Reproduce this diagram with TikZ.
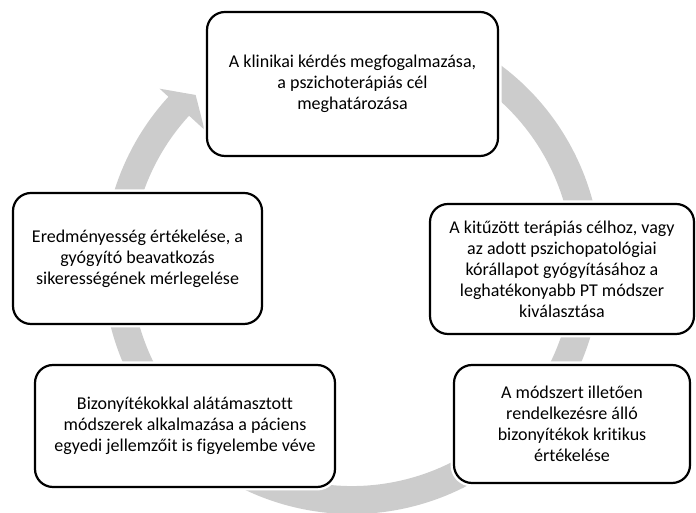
\documentclass[tikz,border=0pt]{standalone}
\usepackage{fontspec}
\setmainfont{Carlito}[Ligatures=NoCommon]
\definecolor{ringgray}{RGB}{204,204,204}

\begin{document}
\begin{tikzpicture}[x=1pt, y=1pt,
    cyclebox/.style={draw=black, line width=2.2pt, fill=white, rounded corners=18pt,
        align=center, inner sep=0pt, font=\fontsize{18}{21}\selectfont,
        preaction={draw=white, line width=7pt}},
    ring/.style={draw=ringgray, line width=28pt}]
    \useasboundingbox (0,0) rectangle (696,513);

    % Cycle arrow
    \begin{scope}[shift={(352,248)}]
        \draw[ring] (70:235) arc[start angle=70, end angle=-222.8, radius=235];
        \fill[ringgray] (137.5:261) -- (132.6:231) -- (137.5:200) -- cycle;
    \end{scope}

    % Steps
    \node[cyclebox, minimum width=291pt, minimum height=144pt] (klinikai) at (352.5,429)
        {A klinikai kérdés megfogalmazása,\\ a pszichoterápiás cél\\ meghatározása};
    \node[cyclebox, minimum width=264pt, minimum height=130pt] (kituzott) at (562,244)
        {A kitűzött terápiás célhoz, vagy\\ az adott pszichopatológiai\\ kórállapot gyógyításához a\\ leghatékonyabb PT módszer\\ kiválasztása};
    \node[cyclebox, minimum width=236pt, minimum height=118pt] (modszert) at (572,89)
        {A módszert illetően\\ rendelkezésre álló\\ bizonyítékok kritikus\\ értékelése};
    \node[cyclebox, minimum width=300pt, minimum height=122pt] (bizonyitek) at (185,87)
        {Bizonyítékokkal alátámasztott\\ módszerek alkalmazása a páciens\\ egyedi jellemzőit is figyelembe véve};
    \node[cyclebox, minimum width=249pt, minimum height=131pt] (eredmeny) at (137.5,254.5)
        {Eredményesség értékelése, a\\ gyógyító beavatkozás\\ sikerességének mérlegelése};

\end{tikzpicture}
\end{document}
